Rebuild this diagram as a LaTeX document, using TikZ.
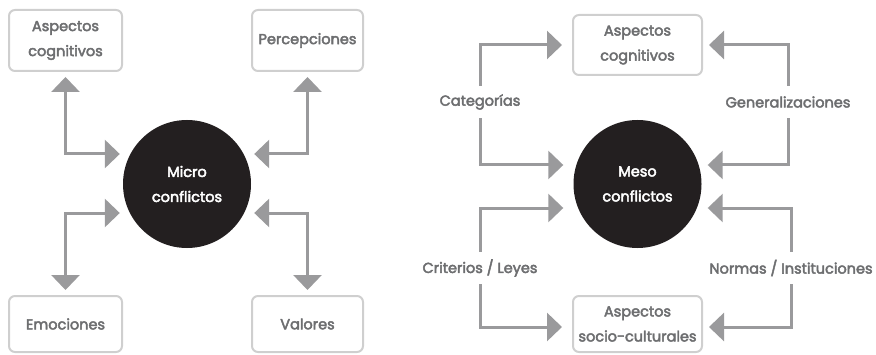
\documentclass[tikz,border=0pt]{standalone}
\usepackage{fontspec}
\setmainfont{Poppins}
\usetikzlibrary{arrows.meta,positioning,calc}
\definecolor{linegray}{HTML}{9A9A9C}
\definecolor{boxgray}{HTML}{CFCFCF}
\definecolor{textgray}{HTML}{6D6E70}
\definecolor{darkball}{HTML}{231F20}
\newcommand\heavytext{\special{pdf:literal direct 2 Tr 0.45 w}}

\begin{document}
\begin{tikzpicture}[x=1pt,y=1pt,font=\fontsize{14.5}{25}\selectfont\heavytext,
  box/.style={draw=boxgray,line width=2pt,rounded corners=6pt,text=textgray,align=center,inner sep=0pt},
  ball/.style={circle,fill=darkball,minimum size=128pt,inner sep=0pt,text=white,align=center},
  lbl/.style={text=textgray,inner sep=0pt,minimum height=32pt},
  arr/.style={draw=linegray,line width=3pt,-{Triangle[length=15pt,width=28pt]}},
  twoarr/.style={arr,{Triangle[length=15pt,width=28pt]}-{Triangle[length=15pt,width=28pt]},shorten <=5pt}]

    \useasboundingbox (0,0) rectangle (876,354);

    % Micro conflictos
    \node [ball] at (187,170) (micro) {Micro\\conflictos};
    \node [box,minimum width=113pt,minimum height=61pt] at (65.5,313.5) (cog1) {Aspectos\\cognitivos};
    \node [box,minimum width=111pt,minimum height=61pt] at (307.5,313.5) (perc) {Percepciones};
    \node [box,minimum width=113pt,minimum height=56pt] at (65.5,30) (emoc) {Emociones};
    \node [box,minimum width=111pt,minimum height=56pt] at (307.5,30) (valo) {Valores};

    \draw[twoarr] (cog1.south) |- ([shift={(-3pt,30pt)}]micro.west);
    \draw[twoarr] (perc.south) |- ([shift={(3pt,30pt)}]micro.east);
    \draw[twoarr] (emoc.north) |- ([shift={(-3pt,-29pt)}]micro.west);
    \draw[twoarr] (valo.north) |- ([shift={(3pt,-29pt)}]micro.east);

    % Meso conflictos
    \node [ball] at (637.5,170) (meso) {Meso\\conflictos};
    \node [box,minimum width=129pt,minimum height=60pt] at (637.5,309) (cog2) {Aspectos\\cognitivos};
    \node [box,minimum width=129pt,minimum height=56pt] at (637.5,30) (soc) {Aspectos\\socio-culturales};

    \node [lbl] at (480,252) (cat) {Categorías};
    \node [lbl] at (480,86) (crit) {Criterios / Leyes};
    \node [lbl] at (788,252) (gen) {Generalizaciones};
    \node [lbl] at (791,86) (norm) {Normas / Instituciones};

    \draw[arr] (cat.north) |- ([xshift=-10pt]cog2.west);
    \draw[arr] (cat.south) |- ([shift={(-10pt,19pt)}]meso.west);
    \draw[arr] (crit.north) |- ([shift={(-10pt,-24pt)}]meso.west);
    \draw[arr] (crit.south) |- ([shift={(-10pt,-3pt)}]soc.west);
    \draw[arr] (gen.north) |- ([xshift=6pt]cog2.east);
    \draw[arr] (gen.south) |- ([shift={(6pt,19pt)}]meso.east);
    \draw[arr] (norm.north) |- ([shift={(6pt,-24pt)}]meso.east);
    \draw[arr] (norm.south) |- ([shift={(6pt,-3pt)}]soc.east);
\end{tikzpicture}
\end{document}
